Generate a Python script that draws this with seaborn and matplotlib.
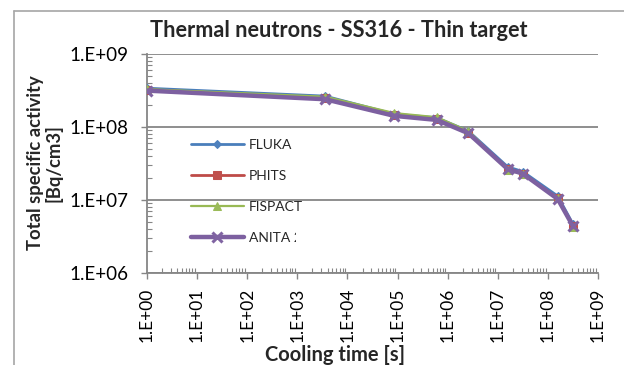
import numpy as np
import pandas as pd
import matplotlib
matplotlib.use("Agg")
import matplotlib.pyplot as plt
import matplotlib.ticker as mticker
from matplotlib.lines import Line2D
from matplotlib.transforms import Bbox
import seaborn as sns

# ---- data ----
cooling_time = [1, 3600, 86400, 604800, 2592000, 15768000, 31536000, 157680000, 315360000]
fluka = [3.4e8, 2.65e8, 1.50e8, 1.34e8, 8.8e7, 2.85e7, 2.45e7, 1.13e7, 4.7e6]
phits = [3.25e8, 2.5e8, 1.45e8, 1.28e8, 8.4e7, 2.7e7, 2.3e7, 1.05e7, 4.4e6]
fispact = [3.3e8, 2.6e8, 1.55e8, 1.36e8, 8.8e7, 2.6e7, 2.25e7, 1.07e7, 4.3e6]
anita = [3.15e8, 2.4e8, 1.42e8, 1.25e8, 8.2e7, 2.65e7, 2.3e7, 1.03e7, 4.4e6]
series_names = ["FLUKA", "PHITS", "FISPACT", "ANITA 2000"]
series_values = [fluka, phits, fispact, anita]
title = "Thermal neutrons - SS316 - Thin target"
xlabel = "Cooling time [s]"
ylabel = "Total specific activity\n[Bq/cm3]"

sns.set_theme(style="white")
plt.rcParams['font.family'] = ['Lato', 'DejaVu Sans']

W, H = 624, 365
fig = plt.figure(figsize=(W / 100, H / 100), dpi=100)
L, R, T, B = 147, 598, 54, 273
ax = fig.add_axes([L / W, 1 - B / H, (R - L) / W, (B - T) / H])

styles = [
    dict(color="#4A7EBB", marker="D", markersize=4, linewidth=2.0, mfc="#4F81BD", mec="#4F81BD"),
    dict(color="#BE4B48", marker="s", markersize=6, linewidth=2.0, mfc="#C0504D", mec="#C0504D"),
    dict(color="#98B954", marker="^", markersize=6, linewidth=1.6, mfc="#9BBB59", mec="#9BBB59"),
    dict(color="#7D60A0", marker="x", markersize=7, linewidth=3.2, mew=2.2, mfc="#8064A2", mec="#8064A2"),
]

rows = []
for name, vals in zip(series_names, series_values):
    for t, v in zip(cooling_time, vals):
        rows.append(dict(series=name, t=t, v=v))
df = pd.DataFrame(rows)

for i, (name, st) in enumerate(zip(series_names, styles)):
    sub = df[df.series == name]
    sns.lineplot(data=sub, x="t", y="v", ax=ax, label=name, zorder=3 + i, **st)

ax.set_xscale("log")
ax.set_yscale("log")
ax.set_xlim(1, 1e9)
ax.set_ylim(1e6, 1e9)

fmt = mticker.FuncFormatter(lambda v, p: "1.E+%02d" % int(round(np.log10(v))))
ax.xaxis.set_major_locator(mticker.LogLocator(base=10, numticks=20))
ax.yaxis.set_major_locator(mticker.LogLocator(base=10, numticks=20))
ax.xaxis.set_minor_locator(mticker.LogLocator(base=10, subs=np.arange(2, 10), numticks=20))
ax.yaxis.set_minor_locator(mticker.LogLocator(base=10, subs=np.arange(2, 10), numticks=20))
ax.xaxis.set_major_formatter(fmt)
ax.yaxis.set_major_formatter(fmt)
ax.xaxis.set_minor_formatter(mticker.NullFormatter())
ax.yaxis.set_minor_formatter(mticker.NullFormatter())

gc = "#868686"
ax.tick_params(axis="both", which="major", direction="out", length=4.3, width=1.0,
               color=gc, labelcolor="black")
ax.tick_params(axis="both", which="minor", direction="in", length=3.5, width=0.8, color=gc)
ax.tick_params(axis="x", which="major", labelrotation=90, pad=6.5, labelsize=12.5)
ax.tick_params(axis="y", which="major", pad=9, labelsize=13.5)
ax.tick_params(axis="both", which="both", bottom=True, left=True, top=False, right=False)

ax.grid(False)
ax.yaxis.grid(True, which="major", color=gc, linewidth=1.3)
ax.set_axisbelow(True)
for s in ["top", "right"]:
    ax.spines[s].set_visible(False)
for s in ["left", "bottom"]:
    ax.spines[s].set_color(gc)
    ax.spines[s].set_linewidth(1.3)

ax.set_xlabel(xlabel, fontsize=14.5, fontweight="bold")
ax.xaxis.label.set_va("baseline")
ax.xaxis.set_label_coords((335 - L) / (R - L), (B - 361) / (B - T))

ax.set_ylabel(ylabel, fontsize=13.3, fontweight="bold", linespacing=1.05)
ax.yaxis.label.set_va("center")
ax.yaxis.set_label_coords((45 - L) / (R - L), (B - 163) / (B - T))

leg = ax.legend(loc="upper left", bbox_to_anchor=((191 - L) / (R - L), (B - 139) / (B - T)),
                frameon=False, fontsize=10, handlelength=3.8, handletextpad=0.36,
                labelspacing=1.36, borderpad=0, borderaxespad=0)
leg.set_zorder(10)

fig.text(339 / W, 1 - 37 / H, title, ha="center", va="baseline",
         fontsize=15.6, fontweight="bold")

# outer chart border
fig.add_artist(Line2D([14 / W, 14 / W], [0, 1 - 10.7 / H], color="#a6a6a6", linewidth=1.2))
fig.add_artist(Line2D([14 / W, 1], [1 - 10.7 / H, 1 - 10.7 / H], color="#a6a6a6", linewidth=1.2))

fig.canvas.draw()
# legend labels are truncated as in the reference
clips = [320, 320, 302, 296]
for txt, cx in zip(leg.get_texts(), clips):
    txt.set_clip_box(Bbox.from_extents(0, 0, cx, H))
    txt.set_clip_on(True)

fig.savefig("out.png", dpi=100)
